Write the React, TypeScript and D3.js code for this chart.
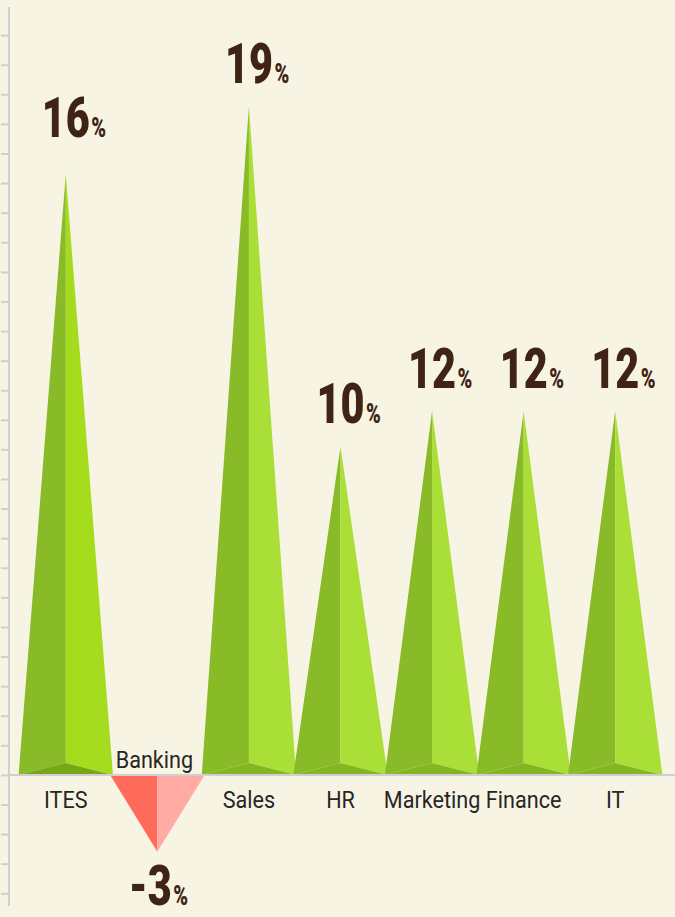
import React, { useEffect, useRef } from 'react';
import * as d3 from 'd3';

// categories and the value shown above each spike
const categories = ['ITES', 'Banking', 'Sales', 'HR', 'Marketing', 'Finance', 'IT'];
const valueLabels = ['16', '-3', '19', '10', '12', '12', '12'];
// spike heights, in axis tick units
const spikeValues = [20.3, -2.6, 22.6, 11.1, 12.3, 12.3, 12.3];

const WIDTH = 675;
const HEIGHT = 917;

export default function App() {
  const ref = useRef<SVGSVGElement>(null);

  useEffect(() => {
    document.body.style.margin = '0';
    const svg = d3.select(ref.current);
    svg.selectAll('*').remove();

    svg.append('rect').attr('width', WIDTH).attr('height', HEIGHT).attr('fill', '#f8f4e4');

    const x = d3.scaleBand<string>().domain(categories).range([20, 661]).padding(0);
    const y = d3.scaleLinear().domain([-4.43, 25.95]).range([906, 7]);
    const y0 = y(0);
    const w = x.bandwidth() * 1.03;

    // left axis with small ticks, no labels
    const axis = d3.axisLeft(y).tickValues(d3.range(-4, 26)).tickSize(8).tickFormat(() => '');
    const ag = svg.append('g').attr('transform', 'translate(9,0)').call(axis);
    ag.select('.domain').attr('stroke', '#cfcfcf').attr('stroke-width', 2).attr('d', `M0,${y.range()[1]}V${y.range()[0]}`);
    ag.selectAll('.tick line').attr('stroke', '#cfcfcf').attr('stroke-width', 2);

    const line = d3.line();

    categories.forEach((c, i) => {
      const v = spikeValues[i];
      const cx = x(c)! + x.bandwidth() / 2;
      const top = y(v);
      const g = svg.append('g');
      const L: [number, number] = [cx - w / 2, y0];
      const R: [number, number] = [cx + w / 2, y0];
      const P: [number, number] = [cx, top];
      if (v >= 0) {
        const mid: [number, number] = [cx, y0 - 12];
        g.append('path').attr('d', line([P, L, mid])! + 'Z').attr('fill', '#89ba27');
        g.append('path').attr('d', line([P, mid, R])! + 'Z').attr('fill', i === 0 ? '#a5dc1e' : '#aadf38');
        g.append('path').attr('d', line([L, mid, R])! + 'Z').attr('fill', i === 0 ? '#77a617' : '#84b523');
      } else {
        g.append('path').attr('d', line([L, [cx, y0], P])! + 'Z').attr('fill', '#ff6b5b');
        g.append('path').attr('d', line([[cx, y0], R, P])! + 'Z').attr('fill', '#ffaaa3');
      }

      // category label
      svg.append('g')
        .attr('transform', `translate(${cx - (v < 0 ? 3 : 0)},${v >= 0 ? y0 + 33 : y0 - 7}) scale(0.9,1)`)
        .append('text')
        .attr('text-anchor', 'middle')
        .attr('font-family', 'Roboto, sans-serif')
        .attr('font-size', 24)
        .attr('fill', '#262626')
        .text(c);

      // value label: big condensed number + small percent sign
      const ly = v >= 0 ? top - (i === 0 ? 37 : 23) : top + 53;
      const lg = svg.append('g').attr('transform', `translate(${cx - (v < 0 ? 7 : 0)},${ly}) scale(0.74,1)`);
      const num = lg.append('text')
        .attr('text-anchor', 'middle')
        .attr('font-family', 'Roboto, sans-serif')
        .attr('font-weight', 900)
        .attr('font-size', 56)
        .attr('fill', '#3f2415')
        .text(valueLabels[i]);
      const nw = (num.node() as SVGTextElement).getComputedTextLength();
      lg.append('text')
        .attr('x', nw / 2 + 2)
        .attr('font-family', 'Roboto, sans-serif')
        .attr('font-weight', 900)
        .attr('font-size', 27)
        .attr('fill', '#3f2415')
        .text('%');
    });

    // baseline
    svg.append('line')
      .attr('x1', 9).attr('x2', WIDTH)
      .attr('y1', y0).attr('y2', y0)
      .attr('stroke', '#cfcfcf').attr('stroke-width', 2);
  }, []);

  return <svg ref={ref} width={WIDTH} height={HEIGHT} style={{ display: 'block' }} />;
}
